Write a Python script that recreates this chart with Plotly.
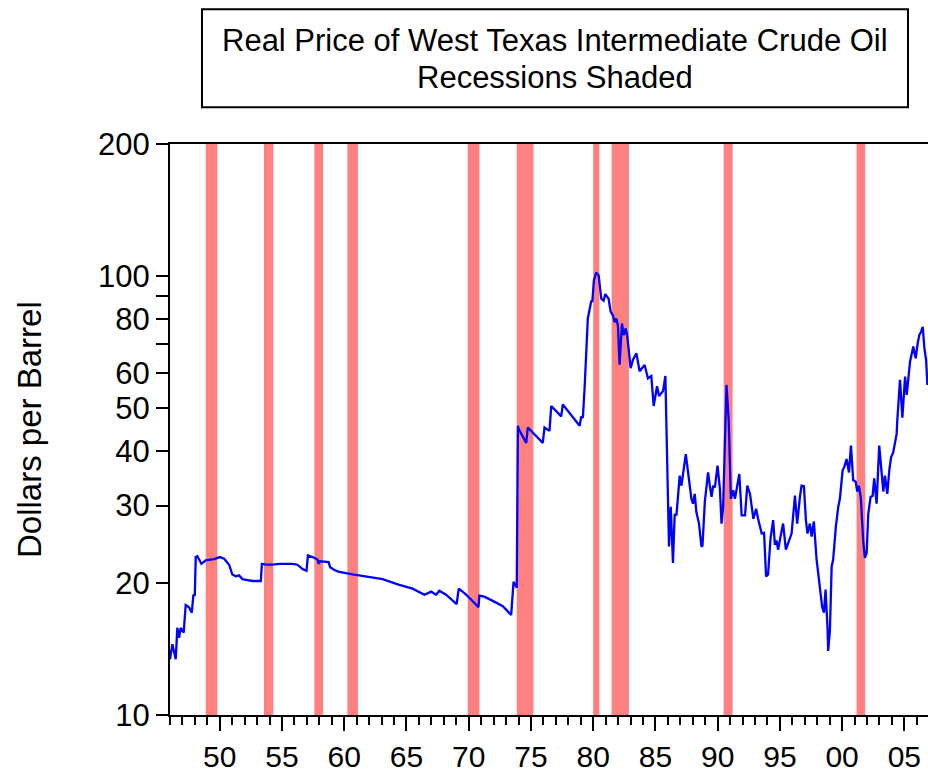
import plotly.graph_objects as go
import math

# Real WTI price (dollars per barrel)
years = [1946.00, 1946.19, 1946.46, 1946.59, 1946.73, 1946.86, 1947.10, 1947.26, 1947.53, 1947.75,
         1947.88, 1947.99, 1948.07, 1948.20, 1948.52, 1948.87, 1949.54, 1950.00, 1950.35, 1950.75,
         1951.01, 1951.29, 1951.55, 1951.82, 1952.22, 1952.62, 1953.30, 1953.38, 1953.70, 1954.23,
         1954.77, 1955.84, 1956.24, 1956.65, 1956.97, 1957.08, 1957.45, 1957.85, 1957.93, 1958.05,
         1958.74, 1958.87, 1959.20, 1959.60, 1960.67, 1961.75, 1963.08, 1964.42, 1965.49, 1966.44,
         1966.98, 1967.38, 1967.64, 1968.18, 1969.03, 1969.20, 1969.79, 1970.46, 1970.78, 1970.86,
         1971.26, 1971.93, 1972.74, 1973.41, 1973.60, 1973.86, 1973.95, 1974.02, 1974.62, 1974.75,
         1975.15, 1975.95, 1976.09, 1976.49, 1976.63, 1977.43, 1977.56, 1978.91, 1979.04, 1979.17,
         1979.31, 1979.57, 1979.85, 1979.93, 1980.06, 1980.25, 1980.44, 1980.65, 1980.84, 1980.97,
         1981.24, 1981.40, 1981.59, 1981.73, 1981.86, 1981.99, 1982.12, 1982.31, 1982.45, 1982.61,
         1982.74, 1982.87, 1983.01, 1983.19, 1983.47, 1983.73, 1984.13, 1984.40, 1984.67, 1984.86,
         1985.13, 1985.29, 1985.61, 1985.80, 1986.09, 1986.23, 1986.41, 1986.55, 1986.69, 1986.95,
         1987.09, 1987.44, 1987.62, 1987.89, 1988.02, 1988.16, 1988.29, 1988.50, 1988.70, 1988.78,
         1988.97, 1989.23, 1989.37, 1989.51, 1989.64, 1989.78, 1989.99, 1990.18, 1990.31, 1990.44,
         1990.71, 1990.89, 1991.06, 1991.25, 1991.39, 1991.53, 1991.74, 1991.93, 1992.20, 1992.38,
         1992.60, 1992.87, 1993.09, 1993.27, 1993.54, 1993.73, 1993.89, 1994.05, 1994.25, 1994.46,
         1994.60, 1994.73, 1994.86, 1995.05, 1995.26, 1995.48, 1995.67, 1995.94, 1996.21, 1996.39,
         1996.61, 1996.74, 1996.93, 1997.09, 1997.22, 1997.41, 1997.55, 1997.73, 1997.95, 1998.16,
         1998.27, 1998.40, 1998.54, 1998.67, 1998.83, 1998.88, 1999.02, 1999.16, 1999.28, 1999.50,
         1999.69, 1999.82, 2000.04, 2000.17, 2000.36, 2000.55, 2000.71, 2000.89, 2001.09, 2001.22,
         2001.35, 2001.51, 2001.70, 2001.83, 2001.97, 2002.10, 2002.29, 2002.45, 2002.58, 2002.77,
         2002.98, 2003.18, 2003.31, 2003.44, 2003.63, 2003.79, 2003.93, 2004.11, 2004.25, 2004.38,
         2004.43, 2004.65, 2004.84, 2005.06, 2005.19, 2005.46, 2005.72, 2005.91, 2006.07, 2006.20,
         2006.34, 2006.48, 2006.61, 2006.75, 2006.85]
price = [13.4, 14.5, 13.4, 15.8, 15.0, 15.8, 15.4, 17.8, 17.6, 17.1,
         18.8, 18.7, 22.9, 23.0, 22.1, 22.5, 22.66, 22.9, 22.7, 22.0,
         20.9, 20.7, 20.8, 20.4, 20.3, 20.2, 20.2, 22.1, 22.0, 22.0,
         22.1, 22.1, 22.0, 21.5, 21.3, 23.1, 22.9, 22.6, 22.1, 22.4,
         22.3, 21.7, 21.4, 21.2, 20.9, 20.7, 20.4, 19.8, 19.4, 18.8,
         19.1, 18.8, 19.2, 18.8, 17.9, 19.4, 18.8, 18.0, 17.6, 18.7,
         18.6, 18.2, 17.7, 16.9, 20.1, 19.5, 45.6, 44.8, 41.7, 45.2,
         44.0, 41.7, 45.2, 44.4, 50.6, 47.9, 51.0, 45.6, 47.9, 47.5,
         55.6, 80.1, 87.9, 87.3, 97.9, 102.0, 100.4, 88.8, 87.9, 91.0,
         88.8, 83.0, 81.4, 78.5, 80.1, 77.1, 62.8, 78.0, 73.4, 76.0,
         72.9, 67.9, 61.7, 64.4, 66.7, 60.7, 62.7, 58.5, 59.2, 50.6,
         56.1, 53.3, 54.7, 59.2, 24.2, 29.8, 22.2, 28.7, 28.5, 35.1,
         33.3, 39.3, 36.1, 31.1, 30.3, 31.9, 29.0, 27.3, 24.2, 24.3,
         30.6, 35.7, 33.3, 31.4, 33.3, 33.0, 37.0, 32.8, 27.3, 29.8,
         56.5, 46.8, 31.1, 32.5, 31.1, 33.1, 35.4, 28.5, 28.5, 33.3,
         31.9, 28.0, 29.5, 27.8, 25.9, 26.0, 20.7, 20.9, 25.3, 27.8,
         24.4, 25.0, 23.8, 25.5, 27.3, 23.8, 24.6, 25.9, 31.6, 27.3,
         31.4, 33.3, 33.2, 27.8, 25.9, 27.3, 25.5, 27.6, 22.6, 20.0,
         19.3, 17.6, 17.1, 19.3, 15.7, 14.0, 15.6, 21.8, 22.6, 26.9,
         29.8, 31.1, 36.1, 36.7, 38.3, 35.7, 41.1, 34.3, 34.0, 32.3,
         33.3, 31.1, 24.8, 22.8, 23.4, 28.7, 31.4, 31.6, 34.6, 30.3,
         41.1, 35.7, 32.3, 35.1, 31.9, 36.1, 38.6, 39.7, 42.2, 43.7,
         46.8, 58.0, 47.6, 59.0, 53.6, 63.9, 69.1, 65.0, 70.2, 73.4,
         74.6, 76.6, 68.5, 64.4, 56.5]

# NBER recessions (decimal years)
rec_start = [1948.87, 1953.55, 1957.60, 1960.25, 1969.92, 1973.86, 1980.00, 1981.48, 1990.48, 2001.16]
rec_end   = [1949.80, 1954.30, 1958.30, 1961.10, 1970.86, 1975.20, 1980.50, 1982.87, 1991.20, 2001.86]

# Axis ticks
x_tickvals = [1950, 1955, 1960, 1965, 1970, 1975, 1980, 1985, 1990, 1995, 2000, 2005]
x_ticktext = ["50", "55", "60", "65", "70", "75", "80", "85", "90", "95", "00", "05"]
y_tickvals = [10, 20, 30, 40, 50, 60, 70, 80, 90, 100, 200]
y_ticktext = ["10", "20", "30", "40", "50", "60", "", "80", "", "100", "200"]

title_lines = ["Real Price of West Texas Intermediate Crude Oil", "Recessions Shaded"]
y_title = "Dollars per Barrel"

FONT = "Arial, Liberation Sans, Helvetica, sans-serif"

fig = go.Figure()
fig.add_trace(go.Scatter(x=years, y=price, mode="lines",
                         line=dict(color="#0000FF", width=2.3), showlegend=False,
                         hoverinfo="x+y"))

shapes = []
for s, e in zip(rec_start, rec_end):
    shapes.append(dict(type="rect", xref="x", yref="paper", x0=s, x1=e, y0=0, y1=1,
                       fillcolor="rgb(255,128,128)", line=dict(width=0), layer="below"))
# title box
shapes.append(dict(type="rect", xref="paper", yref="paper",
                   x0=0.0422, x1=0.9736, y0=1.0642, y1=1.2361,
                   line=dict(color="black", width=2), fillcolor="rgba(0,0,0,0)"))

annotations = [
    dict(text=title_lines[0], xref="paper", yref="paper", x=0.5079, y=1.1806,
         xanchor="center", yanchor="middle", showarrow=False,
         font=dict(family=FONT, size=31, color="black")),
    dict(text=title_lines[1], xref="paper", yref="paper", x=0.5079, y=1.1163,
         xanchor="center", yanchor="middle", showarrow=False,
         font=dict(family=FONT, size=31, color="black")),
    dict(text=y_title, xref="paper", yref="paper", x=-0.186, y=0.4991,
         xanchor="center", yanchor="middle", showarrow=False, textangle=-90,
         font=dict(family=FONT, size=33, color="black")),
]

fig.update_layout(
    width=928, height=773,
    margin=dict(l=170, r=0, t=144, b=53),
    paper_bgcolor="white", plot_bgcolor="white",
    font=dict(family=FONT, size=30, color="black"),
    shapes=shapes, annotations=annotations,
    showlegend=False,
)

fig.update_xaxes(
    range=[1946.0, 2006.9], showgrid=False, zeroline=False,
    showline=True, linecolor="black", linewidth=2, mirror=True,
    tickmode="array", tickvals=x_tickvals, ticktext=x_ticktext,
    ticks="outside", ticklen=14, tickwidth=1.5, tickcolor="black",
    tickfont=dict(family=FONT, size=30, color="black"),
    minor=dict(tickmode="linear", tick0=1946, dtick=1, ticks="outside",
               ticklen=8, tickwidth=1.5, tickcolor="black", showgrid=False),
)
fig.update_yaxes(
    type="log", range=[1, math.log10(200)], showgrid=False, zeroline=False,
    showline=True, linecolor="black", linewidth=2, mirror=False,
    tickmode="array", tickvals=y_tickvals, ticktext=y_ticktext,
    ticks="outside", ticklen=12, tickwidth=1.5, tickcolor="black",
    tickfont=dict(family=FONT, size=31, color="black"),
)

fig.write_html("out.html", config={"displayModeBar": False},
               post_script="document.body.style.margin='0';document.body.style.overflow='hidden';")
